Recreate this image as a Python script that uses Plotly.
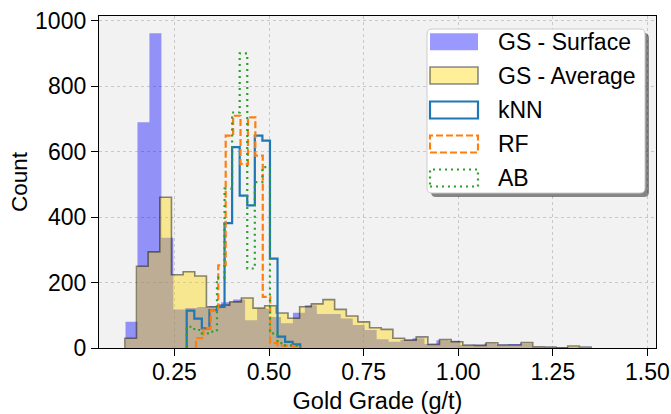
import plotly.graph_objects as go

# ---------------- data ----------------
# GS - Surface (stepfilled histogram)
surf_start = 0.1208
surf_width = 0.0316
surf_counts = [80, 690, 962, 337, 118, 122, 125, 128, 140, 148, 85, 120, 95, 76,
               108, 131, 104, 104, 90, 70, 55, 27, 19, 25, 30, 12, 24, 22, 9, 10,
               14, 11, 12, 14, 3, 2, 3, 2, 1]

# GS - Average (stepfilled histogram)
avg_start = 0.119
avg_width = 0.0308
avg_counts = [30, 250, 294, 461, 224, 233, 220, 126, 131, 141, 153, 122, 129, 107,
              91, 126, 135, 148, 118, 98, 80, 62, 57, 30, 24, 34, 11, 26, 19, 9,
              8, 16, 9, 9, 17, 4, 3, 0, 6, 3]

# kNN (step histogram)
knn_start = 0.2825
knn_width = 0.0200
knn_counts = [114, 90, 60, 116, 126, 382, 614, 466, 436, 649, 634, 273, 35, 19, 11]

# RF (step histogram)
rf_start = 0.3071
rf_width = 0.0196
rf_counts = [30, 61, 115, 253, 649, 710, 563, 705, 588, 156, 15, 7, 7, 5]

# AB (step histogram)
ab_start = 0.2825
ab_width = 0.0200
ab_counts = [65, 55, 45, 50, 215, 487, 720, 901, 243, 507, 553, 45, 15, 8, 7]

x_ticks = [0.25, 0.50, 0.75, 1.00, 1.25, 1.50]
x_tick_labels = ["0.25", "0.50", "0.75", "1.00", "1.25", "1.50"]
y_ticks = [0, 200, 400, 600, 800, 1000]
y_tick_labels = ["0", "200", "400", "600", "800", "1000"]

names = ["GS - Surface", "GS - Average", "kNN", "RF", "AB"]


def step_xy(start, width, counts):
    edges = [start + i * width for i in range(len(counts) + 1)]
    xs = [edges[0]] + edges[:-1] + [edges[-1]]
    ys = [0] + list(counts) + [0]
    return xs, ys


FONT = "Liberation Sans, Arial, sans-serif"
fig = go.Figure()

sx, sy = step_xy(surf_start, surf_width, surf_counts)
fig.add_trace(go.Scatter(x=sx, y=sy, mode="lines", line_shape="hv",
                         line=dict(width=0, color="rgba(0,0,255,0.4)"),
                         fill="tozeroy", fillcolor="rgba(0,0,255,0.4)",
                         name=names[0], showlegend=False))

ax_, ay_ = step_xy(avg_start, avg_width, avg_counts)
fig.add_trace(go.Scatter(x=ax_, y=ay_, mode="lines", line_shape="hv",
                         line=dict(width=1.6, color="rgba(0,0,0,0.45)"),
                         fill="tozeroy", fillcolor="rgba(255,215,0,0.4)",
                         name=names[1], showlegend=False))

kx, ky = step_xy(knn_start, knn_width, knn_counts)
fig.add_trace(go.Scatter(x=kx, y=ky, mode="lines", line_shape="hv",
                         line=dict(width=2.2, color="#1f77b4"),
                         name=names[2], showlegend=False))

rx, ry = step_xy(rf_start, rf_width, rf_counts)
fig.add_trace(go.Scatter(x=rx, y=ry, mode="lines", line_shape="hv",
                         line=dict(width=2.2, color="#ff7f0e", dash="7px,3px"),
                         name=names[3], showlegend=False))

bx, by = step_xy(ab_start, ab_width, ab_counts)
fig.add_trace(go.Scatter(x=bx, y=by, mode="lines", line_shape="hv",
                         line=dict(width=2.2, color="#2ca02c", dash="2px,4px"),
                         name=names[4], showlegend=False))

# ---------------- layout ----------------
L, R, T, B = 99, 656, 16, 348
W, H = 671, 414

fig.update_layout(
    width=W, height=H,
    margin=dict(l=L, r=W - R, t=T, b=H - B, autoexpand=False),
    paper_bgcolor="white",
    plot_bgcolor="#f2f2f2",
    font=dict(family=FONT, size=23, color="black"),
    showlegend=False,
)
fig.update_xaxes(
    range=[0.0507, 1.5227], tickvals=x_ticks, ticktext=x_tick_labels,
    ticks="outside", ticklen=7, tickwidth=1.3, tickcolor="black",
    ticklabelstandoff=-4,
    showline=True, linecolor="black", linewidth=1.3, mirror=True,
    showgrid=True, gridcolor="#c8c8c8", gridwidth=1, griddash="dot",
    zeroline=False,
    title=dict(text="Gold Grade (g/t)", font=dict(size=23.5), standoff=8),
)
fig.update_yaxes(
    range=[0, 1015], tickvals=y_ticks, ticktext=y_tick_labels,
    ticks="outside", ticklen=7, tickwidth=1.3, tickcolor="black",
    showline=True, linecolor="black", linewidth=1.3, mirror=True,
    showgrid=True, gridcolor="#c8c8c8", gridwidth=1, griddash="dot",
    zeroline=False,
    title=dict(text="Count", font=dict(size=22.5), standoff=1),
)


# ---------------- custom matplotlib-like legend ----------------
def px2paper(px, py):
    return (px - L) / (R - L), (B - py) / (B - T)


def rounded_path(x0, y0, x1, y1, r):
    pts = [("M", [(x0 + r, y0)]), ("L", [(x1 - r, y0)]), ("Q", [(x1, y0), (x1, y0 + r)]),
           ("L", [(x1, y1 - r)]), ("Q", [(x1, y1), (x1 - r, y1)]),
           ("L", [(x0 + r, y1)]), ("Q", [(x0, y1), (x0, y1 - r)]),
           ("L", [(x0, y0 + r)]), ("Q", [(x0, y0), (x0 + r, y0)])]
    s = ""
    for cmd, ps in pts:
        s += cmd + " ".join("%.5f,%.5f" % px2paper(a, b) for a, b in ps) + " "
    return s + "Z"


lx0, ly0, lx1, ly1 = 427, 29, 645, 193
shapes = [
    dict(type="path", xref="paper", yref="paper",
         path=rounded_path(lx0 + 4, ly0 + 4, lx1 + 4, ly1 + 4, 5),
         fillcolor="rgba(0,0,0,0.45)", line=dict(width=0)),
    dict(type="path", xref="paper", yref="paper",
         path=rounded_path(lx0, ly0, lx1, ly1, 5),
         fillcolor="white", line=dict(color="#cccccc", width=1)),
]
patch_styles = [
    dict(fillcolor="rgba(0,0,255,0.4)", line=dict(width=0)),
    dict(fillcolor="rgba(255,215,0,0.4)", line=dict(color="rgba(0,0,0,0.45)", width=1.6)),
    dict(fillcolor="white", line=dict(color="#1f77b4", width=2.2)),
    dict(fillcolor="white", line=dict(color="#ff7f0e", width=2.2, dash="7px,3px")),
    dict(fillcolor="white", line=dict(color="#2ca02c", width=2.2, dash="2px,4px")),
]
centers = [41.7, 75.5, 110, 144, 178]
annotations = []
for name, yc, st in zip(names, centers, patch_styles):
    x0p, y0p = px2paper(430, yc + 8.5)
    x1p, y1p = px2paper(478, yc - 8.5)
    shapes.append(dict(type="rect", xref="paper", yref="paper",
                       x0=x0p, y0=y0p, x1=x1p, y1=y1p, **st))
    tx, ty = px2paper(496, yc)
    annotations.append(dict(text=name, xref="paper", yref="paper", x=tx, y=ty,
                            xanchor="left", yanchor="middle", showarrow=False,
                            font=dict(family=FONT, size=23, color="black")))

fig.update_layout(shapes=shapes, annotations=annotations)

fig.write_html("out.html")
